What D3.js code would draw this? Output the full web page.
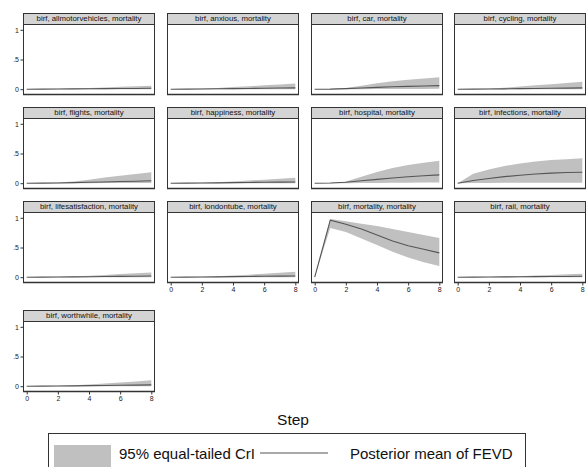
<!DOCTYPE html>
<html>
<head>
<meta charset="utf-8">
<script src="https://cdn.jsdelivr.net/npm/d3@7/dist/d3.min.js"></script>
<style>
  html, body { margin: 0; padding: 0; background: #fff; }
  svg { display: block; font-family: "Liberation Sans", Arial, sans-serif; }
</style>
</head>
<body>
<svg id="chart" width="586" height="467"></svg>
<script>
// ---- data ----
const steps = [0, 1, 2, 3, 4, 5, 6, 7, 8];
const panelNames = [
  "birf, allmotorvehicles, mortality", "birf, anxious, mortality", "birf, car, mortality", "birf, cycling, mortality",
  "birf, flights, mortality", "birf, happiness, mortality", "birf, hospital, mortality", "birf, infections, mortality",
  "birf, lifesatisfaction, mortality", "birf, londontube, mortality", "birf, mortality, mortality", "birf, rail, mortality",
  "birf, worthwhile, mortality"
];
const meanVals = [
  [0, 0.001, 0.003, 0.005, 0.007, 0.009, 0.011, 0.013, 0.015],
  [0, 0.002, 0.004, 0.007, 0.010, 0.013, 0.016, 0.019, 0.022],
  [0, 0.002, 0.010, 0.020, 0.030, 0.040, 0.048, 0.054, 0.060],
  [0, 0.001, 0.003, 0.006, 0.009, 0.012, 0.015, 0.018, 0.022],
  [0, 0.001, 0.004, 0.009, 0.015, 0.021, 0.028, 0.034, 0.040],
  [0, 0.001, 0.003, 0.006, 0.009, 0.012, 0.015, 0.018, 0.021],
  [0, 0.003, 0.015, 0.040, 0.065, 0.088, 0.108, 0.125, 0.140],
  [0, 0.045, 0.080, 0.110, 0.135, 0.155, 0.170, 0.180, 0.185],
  [0, 0.001, 0.003, 0.005, 0.008, 0.011, 0.014, 0.017, 0.020],
  [0, 0.001, 0.003, 0.006, 0.009, 0.012, 0.015, 0.018, 0.021],
  [0, 0.960, 0.890, 0.810, 0.710, 0.610, 0.530, 0.470, 0.410],
  [0, 0.001, 0.003, 0.005, 0.007, 0.009, 0.011, 0.013, 0.015],
  [0, 0.001, 0.003, 0.006, 0.009, 0.012, 0.015, 0.018, 0.022]
];
const loVals = [
  [0, 0, 0, 0, 0, 0, 0.001, 0.001, 0.001],
  [0, 0, 0, 0, 0.001, 0.001, 0.001, 0.001, 0.001],
  [0, 0, 0, 0.001, 0.002, 0.003, 0.004, 0.005, 0.006],
  [0, 0, 0, 0, 0.001, 0.001, 0.001, 0.001, 0.001],
  [0, 0, 0, 0.001, 0.001, 0.002, 0.002, 0.002, 0.002],
  [0, 0, 0, 0, 0.001, 0.001, 0.001, 0.001, 0.001],
  [0, 0, 0.001, 0.003, 0.005, 0.007, 0.009, 0.010, 0.011],
  [0, 0.003, 0.005, 0.006, 0.007, 0.008, 0.008, 0.008, 0.008],
  [0, 0, 0, 0, 0.001, 0.001, 0.001, 0.001, 0.001],
  [0, 0, 0, 0, 0.001, 0.001, 0.001, 0.001, 0.001],
  [0, 0.830, 0.760, 0.650, 0.540, 0.430, 0.330, 0.250, 0.190],
  [0, 0, 0, 0, 0.001, 0.001, 0.001, 0.001, 0.001],
  [0, 0, 0, 0, 0.001, 0.001, 0.001, 0.001, 0.001]
];
const hiVals = [
  [0, 0.002, 0.006, 0.012, 0.020, 0.030, 0.040, 0.050, 0.060],
  [0, 0.003, 0.010, 0.020, 0.035, 0.050, 0.065, 0.080, 0.095],
  [0, 0.003, 0.020, 0.060, 0.100, 0.135, 0.160, 0.180, 0.200],
  [0, 0.003, 0.010, 0.025, 0.045, 0.065, 0.085, 0.105, 0.125],
  [0, 0.002, 0.010, 0.030, 0.060, 0.095, 0.125, 0.155, 0.185],
  [0, 0.002, 0.007, 0.015, 0.030, 0.045, 0.060, 0.075, 0.090],
  [0, 0.005, 0.030, 0.110, 0.190, 0.255, 0.305, 0.345, 0.380],
  [0, 0.160, 0.230, 0.290, 0.330, 0.365, 0.390, 0.405, 0.420],
  [0, 0.002, 0.006, 0.013, 0.025, 0.038, 0.052, 0.066, 0.080],
  [0, 0.002, 0.007, 0.015, 0.028, 0.042, 0.058, 0.074, 0.090],
  [0, 0.980, 0.940, 0.900, 0.860, 0.810, 0.760, 0.710, 0.660],
  [0, 0.002, 0.005, 0.010, 0.018, 0.028, 0.038, 0.049, 0.060],
  [0, 0.002, 0.007, 0.016, 0.030, 0.046, 0.062, 0.080, 0.100]
];
const xTicks = [0, 2, 4, 6, 8];
const yTicks = [0, 0.5, 1];
const yTickLabels = ["0", ".5", "1"];
const legendLabels = ["95% equal-tailed CrI", "Posterior mean of FEVD"];
const xTitle = "Step";

// ---- layout ----
const svg = d3.select("#chart");
const colX = [23, 167, 311, 454];
const rowTop = [13, 107, 201, 310];
const panelW = 132, headH = 11, plotH = 70;
const bandColor = "#c0c0c0", lineColor = "#555555", frameColor = "#333333";

const x = d3.scaleLinear().domain([0, 8]).range([3.7, panelW - 3.7]);
const y = d3.scaleLinear().domain([0, 1]).range([plotH - 5.3, 5.3]);

const area = d3.area().x((d, i) => x(steps[i])).y0(d => y(d[0])).y1(d => y(d[1]));
const line = d3.line().x((d, i) => x(steps[i])).y(d => y(d));

const hasXAxis = [9, 10, 11, 12];

panelNames.forEach((name, k) => {
  const col = k % 4, row = Math.floor(k / 4);
  const g = svg.append("g").attr("transform", `translate(${colX[col]},${rowTop[row]})`);
  // header
  g.append("rect").attr("x", 0.5).attr("y", 0.5).attr("width", panelW - 1).attr("height", headH)
    .attr("fill", "#d4d4d4").attr("stroke", frameColor).attr("stroke-width", 1);
  g.append("text").attr("x", panelW / 2).attr("y", 8.3).attr("text-anchor", "middle")
    .attr("font-size", 7.8).attr("fill", "#111").text(name);
  const p = g.append("g").attr("transform", `translate(0,${headH + 0.5})`);
  p.append("rect").attr("x", 0.5).attr("y", 0).attr("width", panelW - 1).attr("height", plotH)
    .attr("fill", "#fff").attr("stroke", frameColor).attr("stroke-width", 1);
  const band = steps.map((s, i) => [loVals[k][i], hiVals[k][i]]);
  p.append("path").datum(band).attr("d", area).attr("fill", bandColor).attr("stroke", "none");
  p.append("path").datum(meanVals[k]).attr("d", line).attr("fill", "none")
    .attr("stroke", lineColor).attr("stroke-width", 1.1);
  // bottom frame redraw (thicker look)
  p.append("line").attr("x1", 0).attr("x2", panelW).attr("y1", plotH).attr("y2", plotH)
    .attr("stroke", frameColor).attr("stroke-width", 1.4);

  if (col === 0) {
    const ya = p.append("g").call(d3.axisLeft(y).tickValues(yTicks).tickSize(2.5)
      .tickFormat((d, i) => yTickLabels[i]));
    ya.select(".domain").remove();
    ya.selectAll("line").attr("stroke", frameColor);
    ya.selectAll("text").attr("font-size", 7).attr("fill", "#222").attr("x", -4)
      .attr("font-family", "Liberation Sans, Arial, sans-serif");
  }
  if (hasXAxis.includes(k)) {
    const xa = p.append("g").attr("transform", `translate(0,${plotH})`)
      .call(d3.axisBottom(x).tickValues(xTicks).tickSize(3).tickFormat(d3.format("d")));
    xa.select(".domain").remove();
    xa.selectAll("line").attr("stroke", frameColor);
    xa.selectAll("text").attr("font-size", 7).attr("fill", "#222").attr("y", 5)
      .attr("font-family", "Liberation Sans, Arial, sans-serif");
  }
});

// x title
svg.append("text").attr("x", 293).attr("y", 425).attr("text-anchor", "middle")
  .attr("font-size", 15.5).attr("fill", "#111").text(xTitle);

// legend
const lg = svg.append("g");
lg.append("rect").attr("x", 48.5).attr("y", 433.5).attr("width", 477).attr("height", 60)
  .attr("fill", "#fff").attr("stroke", frameColor).attr("stroke-width", 1);
lg.append("rect").attr("x", 54).attr("y", 445).attr("width", 57).attr("height", 30).attr("fill", bandColor);
lg.append("text").attr("x", 119).attr("y", 459).attr("font-size", 15).attr("fill", "#111").text(legendLabels[0]);
lg.append("line").attr("x1", 260).attr("x2", 328).attr("y1", 453).attr("y2", 453)
  .attr("stroke", lineColor).attr("stroke-width", 1.1);
lg.append("text").attr("x", 350).attr("y", 459).attr("font-size", 15).attr("fill", "#111").text(legendLabels[1]);
</script>
</body>
</html>
